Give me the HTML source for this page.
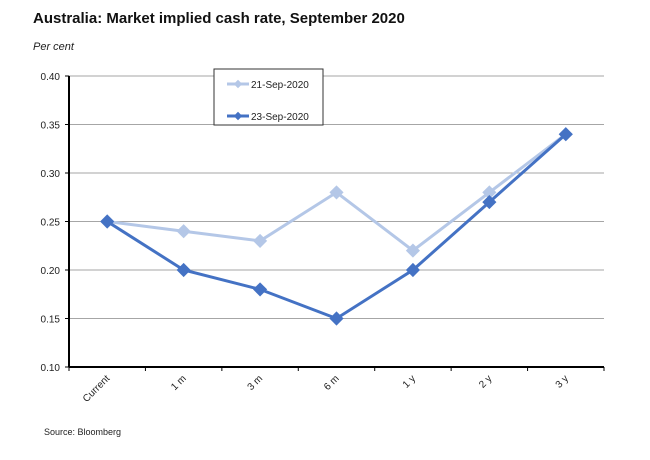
<!DOCTYPE html>
<html><head><meta charset="utf-8"><style>
body{margin:0;background:#fff;font-family:"Liberation Sans",sans-serif}
svg text{font-family:"Liberation Sans",sans-serif}
</style></head><body>
<svg width="650" height="455">
<text x="33" y="23" font-size="15" font-weight="bold" fill="#111">Australia: Market implied cash rate, September 2020</text>
<text x="33" y="50" font-size="11" font-style="italic" fill="#222">Per cent</text>
<g id="grid"></g>
<g id="series"></g>
<g>
<rect x="214" y="69" width="109" height="56" fill="#fff" stroke="#333" stroke-width="1"/>
<line x1="227" y1="84" x2="249" y2="84" stroke="#b4c7e7" stroke-width="3"/>
<rect x="235" y="81" width="6" height="6" fill="#b4c7e7" transform="rotate(45 238 84)"/>
<text x="251" y="88" font-size="10" fill="#222">21-Sep-2020</text>
<line x1="227" y1="116" x2="249" y2="116" stroke="#4472c4" stroke-width="3"/>
<rect x="235" y="113" width="6" height="6" fill="#4472c4" transform="rotate(45 238 116)"/>
<text x="251" y="120" font-size="10" fill="#222">23-Sep-2020</text>
</g>
<text x="44" y="435" font-size="9" fill="#222">Source: Bloomberg</text>
</svg>
<script>
const categories=["Current","1 m","3 m","6 m","1 y","2 y","3 y"];
const sep21=[0.25,0.24,0.23,0.28,0.22,0.28,0.34];
const sep23=[0.25,0.20,0.18,0.15,0.20,0.27,0.34];
const yTicks=[0.10,0.15,0.20,0.25,0.30,0.35,0.40];
const NS="http://www.w3.org/2000/svg";
const L=69,R=604,T=76,B=367,yMin=0.10,yMax=0.40;
const bw=(R-L)/categories.length;
const x=i=>L+bw*(i+0.5);
const y=v=>B-(v-yMin)/(yMax-yMin)*(B-T);
function mk(tag,attrs,parent){const e=document.createElementNS(NS,tag);for(const k in attrs)e.setAttribute(k,attrs[k]);parent.appendChild(e);return e;}
const g=document.getElementById('grid');
yTicks.forEach(t=>{
 if(t>yMin){const ln=mk('line',{x1:L,x2:R,y1:y(t),y2:y(t),stroke:'#a6a6a6','stroke-width':1},g);
 
 }
 mk('line',{x1:L-4,x2:L,y1:y(t),y2:y(t),stroke:'#000','stroke-width':1},g);
 const tx=mk('text',{x:L-9,y:y(t)+4,'font-size':10,'text-anchor':'end',fill:'#222'},g);
 tx.textContent=t.toFixed(2);
 
 
});
const ya=mk('line',{x1:L,x2:L,y1:T,y2:B,stroke:'#000','stroke-width':2},g);


const xa=mk('line',{x1:L,x2:R,y1:B,y2:B,stroke:'#000','stroke-width':2},g);


for(let i=0;i<=categories.length;i++)mk('line',{x1:L+bw*i,x2:L+bw*i,y1:B,y2:B+4,stroke:'#000','stroke-width':1},g);
categories.forEach((c,i)=>{
 const tx=mk('text',{x:x(i)+3,y:B+12,'font-size':10,'text-anchor':'end',fill:'#222',transform:`rotate(-45 ${x(i)+3} ${B+12})`},g);
 tx.textContent=c;
 
 
});
const s=document.getElementById('series');
[[sep21,'#b4c7e7','series-21-sep'],[sep23,'#4472c4','series-23-sep']].forEach(([d,col,name])=>{
 const pl=mk('polyline',{points:d.map((v,i)=>x(i)+','+y(v)).join(' '),fill:'none',stroke:col,'stroke-width':3},s);
 
 
 d.forEach((v,i)=>{
  const m=mk('rect',{x:x(i)-5,y:y(v)-5,width:10,height:10,fill:col,transform:`rotate(45 ${x(i)} ${y(v)})`},s);
  
  
 });
});
</script>
</body></html>
